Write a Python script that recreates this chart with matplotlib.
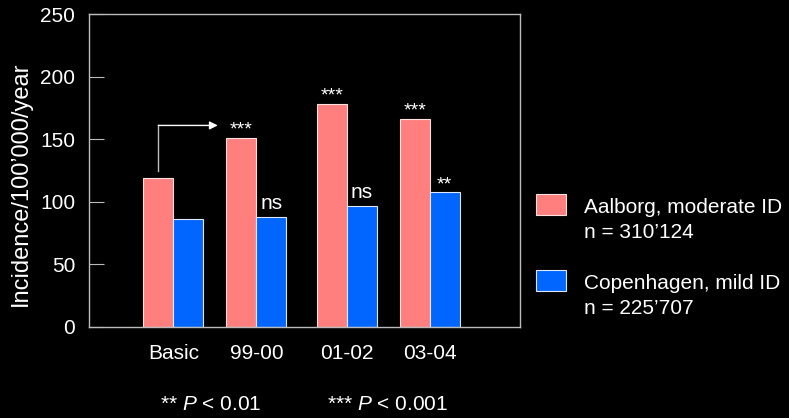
import matplotlib
matplotlib.use("Agg")
import matplotlib.pyplot as plt
from matplotlib.patches import Rectangle

plt.rcParams['font.family'] = ['Liberation Sans', 'DejaVu Sans']
plt.rcParams['mathtext.fontset'] = 'custom'
plt.rcParams['mathtext.it'] = 'Liberation Sans:italic'
plt.rcParams['mathtext.rm'] = 'Liberation Sans'

categories = ['Basic', '99-00', '01-02', '03-04']
aalborg = [119, 151, 178, 166]
copenhagen = [86, 88, 97, 108]
aalborg_sig = ['', '***', '***', '***']
copen_sig = ['', 'ns', 'ns', '**']
series_names = ["Aalborg, moderate ID", "Copenhagen, mild ID"]
series_n = ["n = 310\u2019124", "n = 225\u2019707"]
y_label = "Incidence/100\u2019000/year"

pink = '#FF7F7F'
blue = '#0066FF'
fg = 'white'
spine_col = '#BBBBBB'

positions = [0, 0.971, 2.032, 2.999]
w = 0.351

W, H = 789, 418
fig = plt.figure(figsize=(W/100, H/100), dpi=100, facecolor='black')
ax = fig.add_axes([89/W, 1-327/H, (520-89)/W, (327-14)/H])
ax.set_facecolor('black')

xp = [p - w/2 for p in positions]
xb = [p + w/2 for p in positions]
ax.bar(xp, aalborg, width=w, color=pink, edgecolor='#FFE0E0', linewidth=0.8)
ax.bar(xb, copenhagen, width=w, color=blue, edgecolor='#E0E8FF', linewidth=0.8)

for x, v, s in zip(xp, aalborg, aalborg_sig):
    if s:
        ax.text(x, v + 3, s, color=fg, ha='center', va='baseline', fontsize=14)
for x, v, s in zip(xb, copenhagen, copen_sig):
    if s == 'ns':
        ax.text(x, v + 3, s, color=fg, ha='center', va='bottom', fontsize=15)
    elif s:
        ax.text(x, v + 2, s, color=fg, ha='center', va='baseline', fontsize=14)

# arrow from Basic to 99-00
y0 = aalborg[0] + 6
y1 = aalborg[1] + 10
ax.plot([xp[0], xp[0]], [y0, y1], color='#BBBBBB', lw=1)
ax.annotate('', xy=(0.52, y1), xytext=(xp[0], y1),
            arrowprops=dict(arrowstyle='-|>', color=fg, lw=1, mutation_scale=12,
                            shrinkA=0, shrinkB=0))

ax.set_xlim(-0.986, 4.055)
ax.set_ylim(0, 250)
ax.set_yticks([0, 50, 100, 150, 200, 250])
ax.set_xticks(positions)
ax.set_xticklabels(categories)
ax.tick_params(axis='x', length=0, colors=fg, labelsize=15, pad=12)
ax.tick_params(axis='y', direction='in', length=11, color=spine_col, labelcolor=fg,
               labelsize=15, pad=10)
for sp in ax.spines.values():
    sp.set_color(spine_col)
    sp.set_linewidth(1)
ax.set_ylabel(y_label, color=fg, fontsize=17)
ax.yaxis.set_label_coords(-(89 - 32) / (520 - 89), (327 - 183.5) / 313)

# manual legend
leg_colors = [pink, blue]
leg_edges = ['#FFE0E0', '#E0E8FF']
patch_tops = [194, 270]
for name, n, c, ec, top in zip(series_names, series_n, leg_colors, leg_edges, patch_tops):
    fig.patches.append(Rectangle((536/W, 1-(top+21)/H), 30/W, 21/H, facecolor=c,
                                 edgecolor=ec, linewidth=0.8, transform=fig.transFigure))
    fig.text(584/W, 1-(top+19)/H, name, color=fg, fontsize=15, va='baseline', ha='left')
    fig.text(584/W, 1-(top+44)/H, n, color=fg, fontsize=15, va='baseline', ha='left')

fig.text(160/W, 1-410/H, "** $P$ < 0.01", color=fg, fontsize=15, va='baseline')
fig.text(327/W, 1-410/H, "*** $P$ < 0.001", color=fg, fontsize=15, va='baseline')

fig.savefig('out.png', dpi=100, facecolor='black')
